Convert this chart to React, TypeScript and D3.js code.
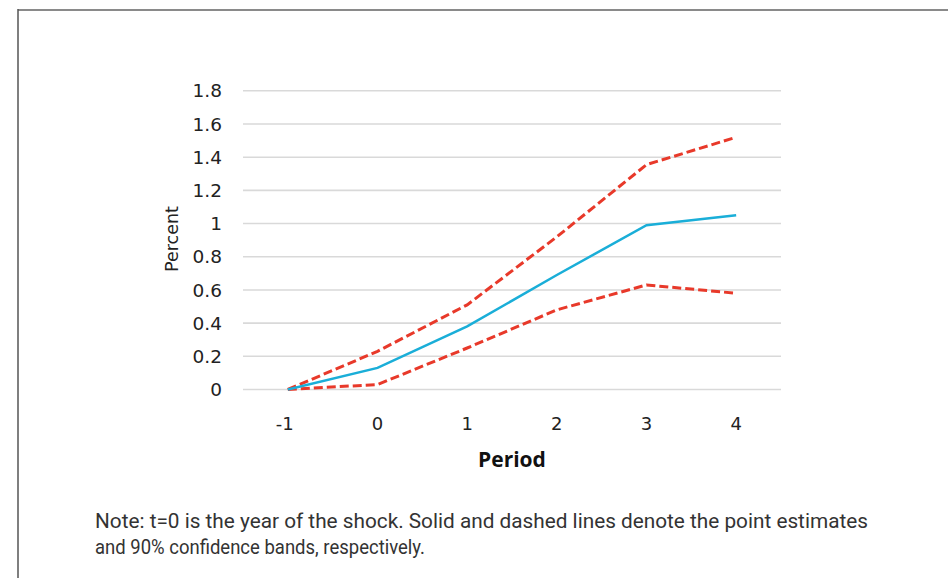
import React from "react";
import * as d3 from "d3";

const periods = ["-1", "0", "1", "2", "3", "4"];
const pointEstimate = [0, 0.13, 0.38, 0.69, 0.99, 1.05];
const upperBand = [0, 0.23, 0.51, 0.92, 1.355, 1.52];
const lowerBand = [0, 0.03, 0.25, 0.48, 0.63, 0.58];
const yTicks = [0, 0.2, 0.4, 0.6, 0.8, 1, 1.2, 1.4, 1.6, 1.8];
const noteLines = [
  "Note: t=0 is the year of the shock. Solid and dashed lines denote the point estimates",
  "and 90% confidence bands, respectively.",
];

export default function App() {
  const W = 948;
  const H = 578;
  const plotLeft = 243;
  const plotRight = 781;
  const y0 = 389.5;
  const yTop = 90.8;

  const x = d3.scalePoint<string>().domain(periods).range([plotLeft, plotRight]).padding(0.5);
  const y = d3.scaleLinear().domain([0, 1.8]).range([y0, yTop]);

  const line = d3
    .line<number>()
    .x((_, i) => x(periods[i]) as number)
    .y((d) => y(d));

  const fmt = (v: number) => (v === 0 || v === 1 ? String(v) : v.toFixed(1));

  return (
    <svg
      width={W}
      height={H}
      style={{ position: "absolute", left: 0, top: 0, background: "#fff" }}
    >
      <rect x={0} y={0} width={W} height={H} fill="#fff" />
      {/* frame */}
      <line x1={18} x2={W} y1={10} y2={10} stroke="#8a8a8a" strokeWidth={2} />
      <line x1={18} x2={18} y1={9} y2={H} stroke="#555" strokeWidth={1.5} />

      {/* gridlines */}
      {yTicks.map((t) => (
        <line
          key={"g" + t}
          x1={plotLeft}
          x2={plotRight}
          y1={y(t)}
          y2={y(t)}
          stroke="#d9d9d9"
          strokeWidth={1.6}
        />
      ))}

      {/* y tick labels */}
      {yTicks.map((t) => (
        <text
          key={"t" + t}
          x={222}
          y={y(t)}
          dy="0.36em"
          textAnchor="end"
          fontFamily="DejaVu Sans, Verdana, sans-serif"
          fontSize={18.5}
          fill="#222"
        >
          {fmt(t)}
        </text>
      ))}

      <text
        transform={`translate(178,239) rotate(-90)`}
        textAnchor="middle"
        fontFamily="DejaVu Sans, Verdana, sans-serif"
        fontSize={17.5}
        fill="#222"
      >
        Percent
      </text>

      {/* x tick labels */}
      {periods.map((p) => (
        <text
          key={"x" + p}
          x={(x(p) as number) - (p === "-1" ? 3 : 0)}
          y={430}
          textAnchor="middle"
          fontFamily="DejaVu Sans, Verdana, sans-serif"
          fontSize={18}
          fill="#222"
        >
          {p}
        </text>
      ))}

      <text
        x={512}
        y={467}
        textAnchor="middle"
        fontFamily="Open Sans, sans-serif"
        fontWeight={700}
        fontSize={21}
        fill="#111"
      >
        Period
      </text>

      {/* series */}
      <path d={line(upperBand) || ""} fill="none" stroke="#e8392a" strokeWidth={3} strokeDasharray="9,4" />
      <path d={line(lowerBand) || ""} fill="none" stroke="#e8392a" strokeWidth={3} strokeDasharray="9,4" />
      <path d={line(pointEstimate) || ""} fill="none" stroke="#1aaed8" strokeWidth={2.5} />

      {/* note */}
      {noteLines.map((l, i) => (
        <text
          key={"n" + i}
          x={95}
          y={528 + i * 25.5}
          fontFamily="Roboto, sans-serif"
          fontSize={19.5}
          fill="#333"
          textLength={i === 0 ? 773 : 330}
          lengthAdjust="spacingAndGlyphs"
        >
          {l}
        </text>
      ))}
    </svg>
  );
}
